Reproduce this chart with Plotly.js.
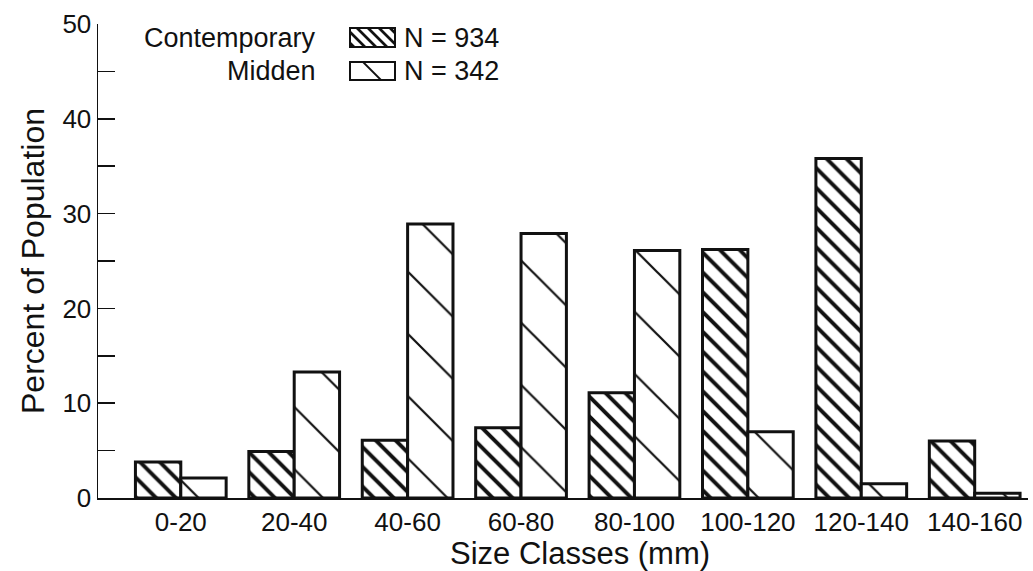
<!DOCTYPE html>
<html><head><meta charset="utf-8">
<script src="https://cdn.plot.ly/plotly-3.0.1.min.js"></script>
<style>html,body{margin:0;padding:0;background:#fff}</style>
</head><body><div id="chart" style="width:1033px;height:571px"></div>
<script>
// ---- data ----
const sizeClasses = ['0-20','20-40','40-60','60-80','80-100','100-120','120-140','140-160'];
const contemporary = [3.8, 4.9, 6.1, 7.4, 11.1, 26.2, 35.8, 6.0];
const midden = [2.1, 13.3, 28.9, 27.9, 26.1, 7.0, 1.5, 0.5];
const seriesNames = ['Contemporary', 'Midden'];
const seriesCounts = ['N = 934', 'N = 342'];
const yTicks = [0, 10, 20, 30, 40, 50];
const xTitle = 'Size Classes (mm)';
const yTitle = 'Percent of Population';

// ---- layout geometry ----
const W = 1033, H = 571;
const M = {l: 98, r: 5, t: 24, b: 73};
const PW = W - M.l - M.r, PH = H - M.t - M.b;
const px = x => (x - M.l) / PW;
const py = y => 1 - (y - M.t) / PH;
const FONT = 'Liberation Sans, Arial, Helvetica, sans-serif';
const INK = '#111';

const traces = [
  {type: 'bar', name: seriesNames[0], x: sizeClasses, y: contemporary,
   marker: {color: 'white', line: {color: INK, width: 3},
            pattern: {shape: '\\', size: 14, solidity: 0.28, fgcolor: INK, fgopacity: 1, bgcolor: 'white', fillmode: 'overlay'}}},
  {type: 'bar', name: seriesNames[1], x: sizeClasses, y: midden,
   marker: {color: 'white', line: {color: INK, width: 3},
            pattern: {shape: '\\', size: 44, solidity: 0.05, fgcolor: INK, fgopacity: 1, bgcolor: 'white', fillmode: 'overlay'}}}
];

// legend keys (decoration)
const shapes = [];
function box(x0, y0, x1, y1) {
  shapes.push({type: 'rect', xref: 'paper', yref: 'paper', x0: px(x0), x1: px(x1), y0: py(y1), y1: py(y0),
               line: {color: INK, width: 2}, fillcolor: 'white'});
}
function seg(xa, ya, xb, yb, w) {
  shapes.push({type: 'line', xref: 'paper', yref: 'paper', x0: px(xa), y0: py(ya), x1: px(xb), y1: py(yb),
               line: {color: INK, width: w}});
}
const kx0 = 350, kx1 = 395;
const c0 = 28, c1 = 47, m0 = 62, m1 = 80;
box(kx0, c0, kx1, c1);
{
  const h = c1 - c0;
  for (let k = kx0 - h + 4; k < kx1; k += 11) {
    const s0 = Math.max(0, kx0 - k), s1 = Math.min(h, kx1 - k);
    if (s1 > s0) seg(k + s0, c0 + s0, k + s1, c0 + s1, 2.6);
  }
}
box(kx0, m0, kx1, m1);
seg(363, m0, 381, m1, 1.8);

const annotations = [];
const rows = [37.5, 71];
seriesNames.forEach((n, i) => {
  annotations.push({xref: 'paper', yref: 'paper', x: px(318), y: py(rows[i]), xanchor: 'right', yanchor: 'middle',
                    text: n, showarrow: false, font: {family: FONT, size: 27, color: INK}});
  annotations.push({xref: 'paper', yref: 'paper', x: px(402), y: py(rows[i]), xanchor: 'left', yanchor: 'middle',
                    text: seriesCounts[i], showarrow: false, font: {family: FONT, size: 27, color: INK}});
});
annotations.push({xref: 'paper', yref: 'paper', x: px(580), y: py(553), xanchor: 'center', yanchor: 'middle',
                  text: xTitle, showarrow: false, font: {family: FONT, size: 31, color: INK}});

const layout = {
  width: W, height: H, margin: M,
  paper_bgcolor: 'white', plot_bgcolor: 'white',
  showlegend: false, barmode: 'group', bargap: 0.2, bargroupgap: 0,
  font: {family: FONT, color: INK},
  xaxis: {type: 'category', range: [-0.73, 7.47], showline: true, linecolor: INK, linewidth: 1.5,
          ticks: '', showgrid: false, zeroline: false,
          tickfont: {family: FONT, size: 26, color: INK}},
  yaxis: {range: [0, 50], tickvals: yTicks, ticktext: yTicks.map(String), showline: true, linecolor: INK, linewidth: 1.5,
          ticks: 'inside', ticklen: 17, tickwidth: 1.5, tickcolor: INK, showgrid: false, zeroline: false,
          minor: {dtick: 5, ticks: 'inside', ticklen: 17, tickwidth: 1.5, tickcolor: INK},
          tickfont: {family: FONT, size: 26, color: INK},
          title: {text: yTitle, font: {family: FONT, size: 32, color: INK}, standoff: 8}},
  shapes: shapes, annotations: annotations
};

Plotly.newPlot('chart', traces, layout, {displayModeBar: false, staticPlot: true});
</script>
</body></html>
